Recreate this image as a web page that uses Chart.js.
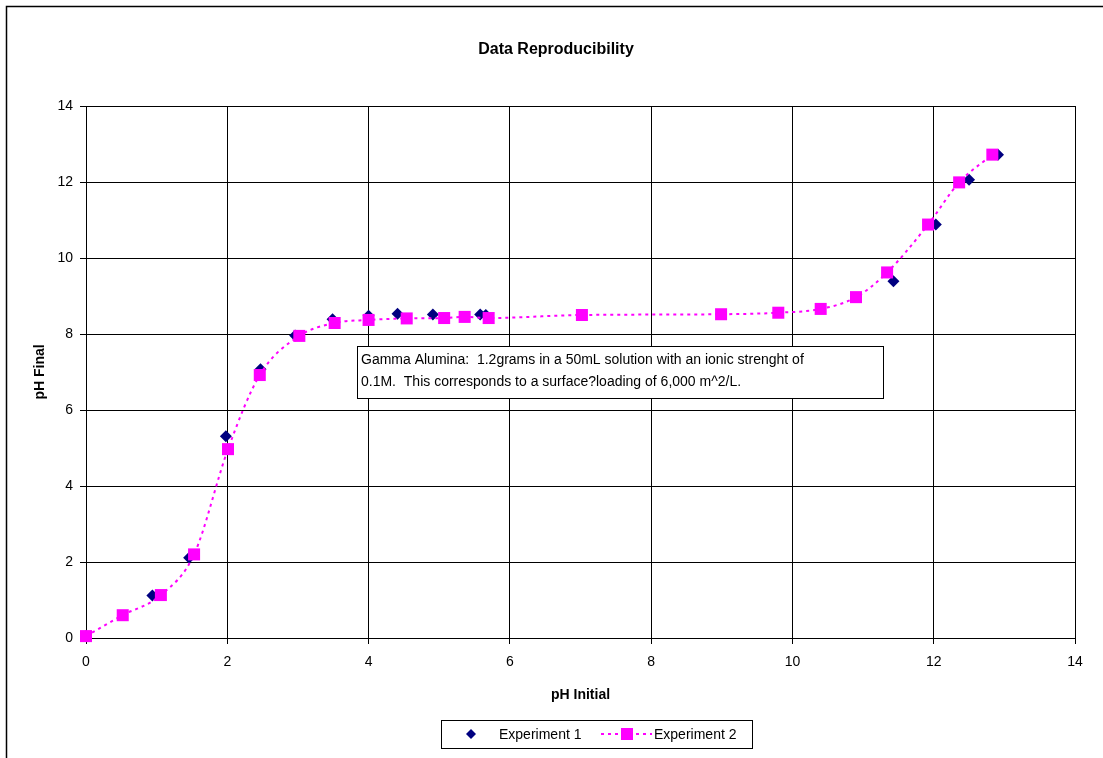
<!DOCTYPE html>
<html>
<head>
<meta charset="utf-8">
<script src="https://cdn.jsdelivr.net/npm/chart.js@4"></script>
<style>
  html, body { margin: 0; padding: 0; background: #fff; }
  #wrap { width: 1103px; height: 758px; position: relative; }
</style>
</head>
<body>
<div id="wrap"><canvas id="chart" width="1103" height="758"></canvas></div>
<script>
// values
const exp1X = [0, 0.94, 1.46, 1.98, 2.47, 2.96, 3.49, 4.0, 4.41, 4.91, 5.58, 5.66, 11.43, 12.03, 12.5, 12.91];
const exp1Y = [0.05, 1.12, 2.11, 5.31, 7.07, 7.96, 8.39, 8.48, 8.53, 8.51, 8.51, 8.5, 9.39, 10.88, 12.06, 12.72];

const exp2X = [0, 0.52, 1.06, 1.53, 2.01, 2.46, 3.02, 3.52, 4.0, 4.54, 5.07, 5.36, 5.7, 7.02, 8.99, 9.8, 10.4, 10.9, 11.34, 11.92, 12.36, 12.83];
const exp2Y = [0.05, 0.6, 1.13, 2.2, 4.97, 6.92, 7.95, 8.29, 8.37, 8.41, 8.42, 8.45, 8.42, 8.5, 8.52, 8.56, 8.66, 8.97, 9.62, 10.88, 11.99, 12.72];

const seriesNames = ["Experiment 1", "Experiment 2"];
const noteLines = [
  "Gamma Alumina:  1.2grams in a 50mL solution with an ionic strenght of",
  "0.1M.  This corresponds to a surface?loading of 6,000 m^2/L."
];

const FONT = "Arial, 'Liberation Sans', sans-serif";

// title, note box, legend and outer frame
const extras = {
  id: "extras",
  afterDraw(chart) {
    const ctx = chart.ctx;
    const area = chart.chartArea;
    ctx.save();

    // outer frame (runs off the right and bottom edge)
    ctx.strokeStyle = "#000";
    ctx.lineWidth = 1.5;
    ctx.strokeRect(6.5, 6.5, 1110, 770);

    // title
    ctx.fillStyle = "#000";
    ctx.font = "bold 16px " + FONT;
    ctx.textAlign = "center";
    ctx.textBaseline = "middle";
    ctx.fillText("Data Reproducibility", 556, 50);

    // note box
    ctx.fillStyle = "#fff";
    ctx.fillRect(357, 346, 526, 52);
    ctx.lineWidth = 1;
    ctx.strokeStyle = "#000";
    ctx.strokeRect(357.5, 346.5, 526, 52);
    ctx.fillStyle = "#000";
    ctx.font = "14px " + FONT;
    ctx.textAlign = "left";
    noteLines.forEach((t, i) => ctx.fillText(t, 361, 360 + i * 22));

    // legend
    ctx.fillStyle = "#fff";
    ctx.fillRect(441, 720, 311, 28);
    ctx.strokeRect(441.5, 720.5, 311, 28);
    const ly = 734;
    // Experiment 1 marker (diamond)
    ctx.fillStyle = "#000080";
    ctx.beginPath();
    ctx.moveTo(471, ly - 5); ctx.lineTo(476, ly); ctx.lineTo(471, ly + 5); ctx.lineTo(466, ly);
    ctx.closePath(); ctx.fill();
    ctx.fillStyle = "#000";
    ctx.fillText(seriesNames[0], 499, ly + 1);
    // Experiment 2 line + square
    ctx.strokeStyle = "#FF00FF";
    ctx.lineWidth = 2;
    ctx.setLineDash([3, 4]);
    ctx.beginPath(); ctx.moveTo(601, ly); ctx.lineTo(652, ly); ctx.stroke();
    ctx.setLineDash([]);
    ctx.fillStyle = "#FF00FF";
    ctx.fillRect(621, ly - 6, 12, 12);
    ctx.fillStyle = "#000";
    ctx.fillText(seriesNames[1], 654, ly + 1);

    ctx.restore();
  }
};

new Chart(document.getElementById("chart"), {
  type: "scatter",
  data: {
    datasets: [
      {
        label: seriesNames[1],
        data: exp2X.map((x, i) => ({ x: x, y: exp2Y[i] })),
        showLine: true,
        clip: false,
        borderColor: "#FF00FF",
        borderWidth: 2,
        borderDash: [3, 4],
        cubicInterpolationMode: "monotone",
        pointStyle: "rect",
        pointRadius: 8.5,
        pointBackgroundColor: "#FF00FF",
        pointBorderColor: "#FF00FF",
        pointBorderWidth: 0,
        order: 2
      },
      {
        label: seriesNames[0],
        data: exp1X.map((x, i) => ({ x: x, y: exp1Y[i] })),
        showLine: false,
        clip: false,
        pointStyle: "rectRot",
        pointRadius: 6,
        pointBackgroundColor: "#000080",
        pointBorderColor: "#000080",
        pointBorderWidth: 0,
        order: 3
      }
    ]
  },
  options: {
    responsive: false,
    animation: false,
    layout: { padding: { top: 106, right: 28, bottom: 50, left: 28 } },
    plugins: {
      legend: { display: false },
      tooltip: { enabled: false },
      title: { display: false }
    },
    scales: {
      x: {
        type: "linear",
        min: 0, max: 14,
        ticks: { stepSize: 2, color: "#000", font: { family: FONT, size: 14 }, padding: 10 },
        grid: { color: "#000", lineWidth: 1, tickLength: 6, drawTicks: true },
        border: { color: "#000" },
        title: { display: true, text: "pH Initial", color: "#000", font: { family: FONT, size: 14, weight: "bold" } },
        afterFit(scale) { scale.height = 70; }
      },
      y: {
        type: "linear",
        min: 0, max: 14,
        ticks: { stepSize: 2, color: "#000", font: { family: FONT, size: 14 }, padding: 7 },
        grid: { color: "#000", lineWidth: 1, tickLength: 6, drawTicks: true },
        border: { color: "#000" },
        title: { display: true, text: "pH Final", color: "#000", font: { family: FONT, size: 14, weight: "bold" } },
        afterFit(scale) { scale.width = 58; }
      }
    }
  },
  plugins: [extras, {
    id: "frame",
    afterDatasetsDraw(chart) {
      // plot area border, under the marks
    },
    beforeDatasetsDraw(chart) {
      const ctx = chart.ctx, a = chart.chartArea;
      ctx.save();
      ctx.strokeStyle = "#000";
      ctx.lineWidth = 1;
      ctx.strokeRect(a.left + 0.5, a.top + 0.5, a.right - a.left, a.bottom - a.top);
      ctx.restore();
    }
  }]
});
</script>
</body>
</html>
